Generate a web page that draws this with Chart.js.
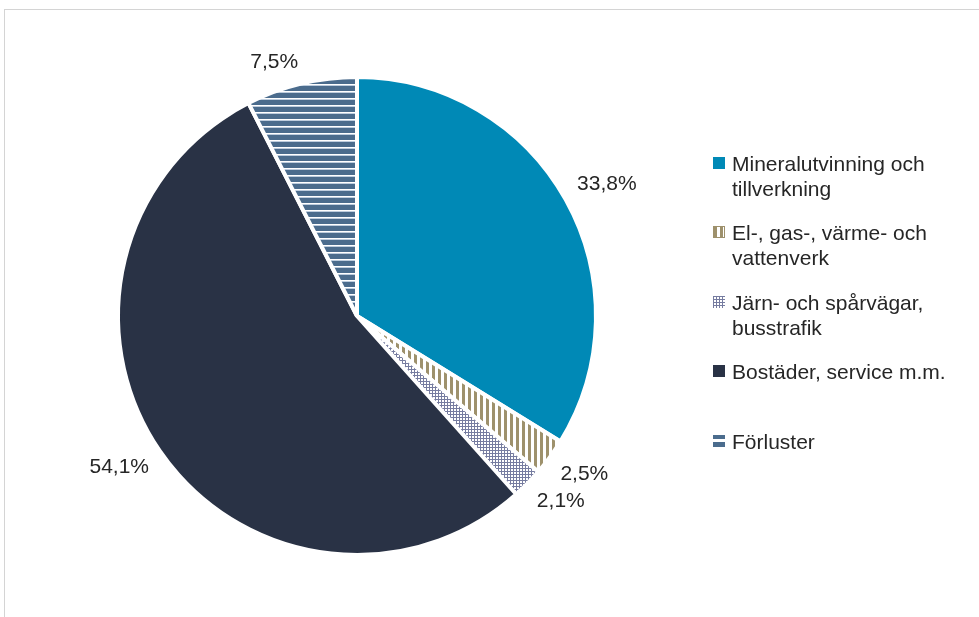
<!DOCTYPE html>
<html>
<head>
<meta charset="utf-8">
<script src="https://cdn.jsdelivr.net/npm/chart.js@4"></script>
<style>
  body { margin: 0; background: #fff; }
  #wrap { position: relative; width: 979px; height: 617px; overflow: hidden; font-family: "Liberation Sans", Arial, sans-serif; }
  #frame { position: absolute; left: 4px; top: 9px; width: 1000px; height: 700px; border-top: 1px solid #d4d4d4; border-left: 1px solid #d4d4d4; }
  #myChart { position: absolute; left: 0; top: 0; }
  .item { position: absolute; left: 713px; font-size: 21px; line-height: 25px; color: #262626; white-space: pre-line; }
  .item .box { position: absolute; left: 0; top: 6px; width: 12px; height: 12px; box-sizing: border-box; }
  .item .txt { margin-left: 19px; }
</style>
</head>
<body>
<div id="wrap">
  <div id="frame"></div>
  <canvas id="myChart" width="979" height="617"></canvas>
  <div id="legend"></div>
</div>
<script>
// data
var labels = ['Mineralutvinning och\ntillverkning', 'El-, gas-, värme- och\nvattenverk', 'Järn- och spårvägar,\nbusstrafik', 'Bostäder, service m.m.', 'Förluster'];
var shares = [33.8, 2.5, 2.1, 54.1, 7.5];

// pattern tiles (Excel style fills)
function tile(w, h, draw) {
    var c = document.createElement('canvas');
    c.width = w; c.height = h;
    draw(c.getContext('2d'));
    return c;
}
var stripesV = tile(6, 6, function (g) {
    g.fillStyle = '#fff'; g.fillRect(0, 0, 6, 6);
    g.fillStyle = 'rgb(158,145,108)'; g.fillRect(0, 0, 3, 6);
});
var dots = tile(3, 3, function (g) {
    g.fillStyle = 'rgb(118,124,160)'; g.fillRect(0, 0, 3, 3);
    g.fillStyle = '#fff'; g.fillRect(1, 1, 2, 2);
});
var stripesH = tile(7, 7, function (g) {
    g.fillStyle = 'rgb(75,108,141)'; g.fillRect(0, 0, 7, 7);
    g.fillStyle = '#fff'; g.fillRect(0, 0, 7, 1);
    g.fillStyle = 'rgb(190,205,222)'; g.fillRect(0, 1, 7, 1);
});

var ctx = document.getElementById('myChart').getContext('2d');
var fills = [
    'rgb(0,137,182)',
    ctx.createPattern(stripesV, 'repeat'),
    ctx.createPattern(dots, 'repeat'),
    'rgb(41,50,69)',
    ctx.createPattern(stripesH, 'repeat')
];

// percent labels outside the slices
var outsideLabels = {
    id: 'outsideLabels',
    afterDatasetsDraw: function (chart) {
        var c = chart.ctx;
        var meta = chart.getDatasetMeta(0);
        c.save();
        c.font = '21px "Liberation Sans", Arial, sans-serif';
        c.fillStyle = '#262626';
        c.textBaseline = 'middle';
        meta.data.forEach(function (arc, i) {
            var mid = (arc.startAngle + arc.endAngle) / 2;
            var dx = Math.cos(mid), dy = Math.sin(mid);
            var r = arc.outerRadius + 13;
            var x = arc.x + dx * r;
            var y = arc.y + dy * r + (dy < 0 ? -9 : 9);
            c.textAlign = dx >= 0 ? 'left' : 'right';
            c.fillText(shares[i].toFixed(1).replace('.', ',') + '%', x, y);
        });
        c.restore();
    }
};

var myChart = new Chart(ctx, {
    type: 'pie',
    data: {
        labels: labels,
        datasets: [{
            data: shares,
            backgroundColor: fills,
            borderColor: '#fff',
            borderWidth: 4
        }]
    },
    options: {
        responsive: false,
        animation: false,
        layout: { padding: { top: 75, bottom: 60, left: 116, right: 381 } },
        plugins: {
            legend: { display: false },
            tooltip: { enabled: false }
        }
    },
    plugins: [outsideLabels]
});

// legend as html text
var boxStyles = [
    'background: rgb(0,137,182);',
    'background-image: url(' + stripesV.toDataURL() + '); border: 1px solid rgb(158,145,108);',
    'background-image: url(' + dots.toDataURL() + ');',
    'background: rgb(41,50,69);',
    'background: rgb(75,108,141); border-top: 4px solid rgb(75,108,141); border-bottom: 5px solid rgb(75,108,141); background-image: linear-gradient(#fff, #fff); background-clip: content-box; padding: 1px 0 0;'
];
var legend = document.getElementById('legend');
labels.forEach(function (lab, i) {
    var d = document.createElement('div');
    d.className = 'item';
    d.style.top = (150.5 + 69.5 * i) + 'px';
    d.innerHTML = '<span class="box" style="' + boxStyles[i] + '"></span><div class="txt"></div>';
    d.querySelector('.txt').textContent = lab;
    legend.appendChild(d);
});
</script>
</body>
</html>
